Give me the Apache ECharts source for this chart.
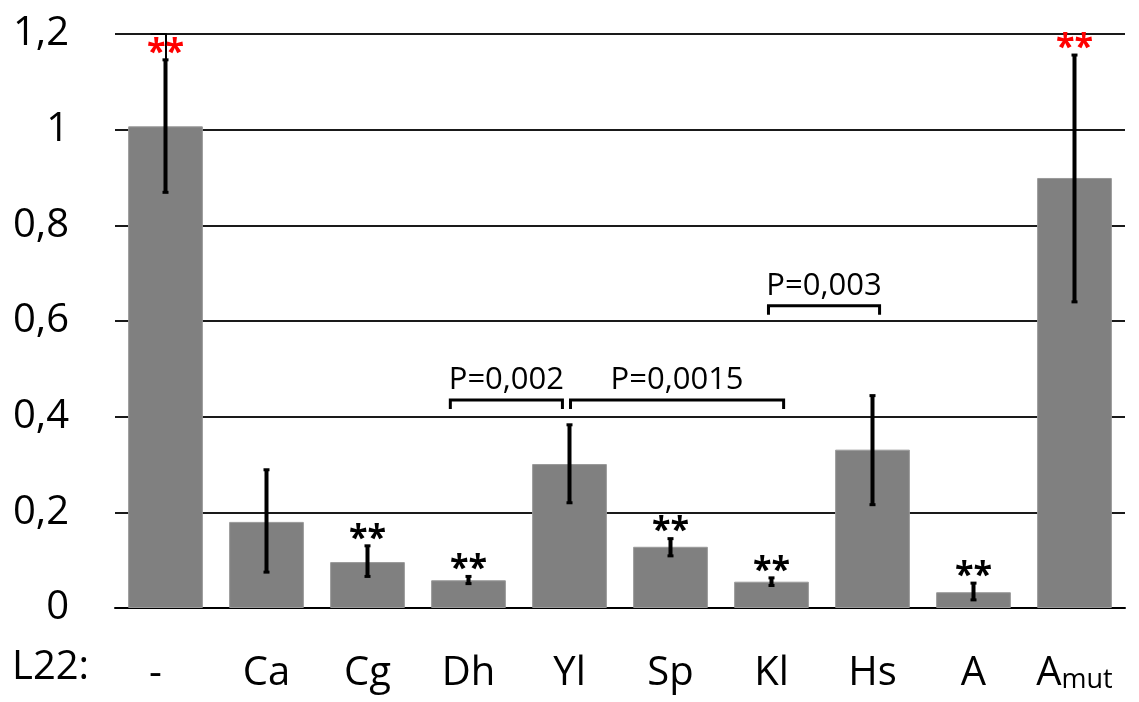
<!DOCTYPE html>
<html>
<head>
<meta charset="utf-8">
<script src="https://cdn.jsdelivr.net/npm/echarts@6/dist/echarts.min.js"></script>
<style>html,body{margin:0;padding:0;background:#fff;}#c{width:1139px;height:702px;}</style>
</head>
<body>
<div id="c"></div>
<script>
const categories = ['-', 'Ca', 'Cg', 'Dh', 'Yl', 'Sp', 'Kl', 'Hs', 'A', 'Amut'];
const values = [1.007, 0.18, 0.096, 0.058, 0.301, 0.128, 0.055, 0.331, 0.033, 0.899];
const errLow = [0.869, 0.075, 0.066, 0.051, 0.22, 0.109, 0.047, 0.216, 0.017, 0.64];
const errHigh = [1.146, 0.289, 0.13, 0.066, 0.383, 0.145, 0.063, 0.444, 0.052, 1.156];
const redStars = ['-', 'Amut'];
const blackStars = ['Cg', 'Dh', 'Sp', 'Kl', 'A'];
const yTicks = [0, 0.2, 0.4, 0.6, 0.8, 1, 1.2];
// brackets: [start x, end x, y level] in category units
const brackets = [[2.82, 3.93, 0.435], [4.01, 6.12, 0.435], [5.97, 7.07, 0.632]];
const bracketLabels = ['P=0,002', 'P=0,0015', 'P=0,003'];

const FONT = '"Open Sans", "Noto Sans", sans-serif';
const chart = echarts.init(document.getElementById('c'));

function starData(list) {
  return list.map(c => [c, errHigh[categories.indexOf(c)]]);
}
function starSeries(list, color) {
  return {
    type: 'custom',
    xAxisIndex: 0,
    data: starData(list),
    renderItem: (params, api) => {
      const p = api.coord([api.value(0), api.value(1)]);
      return {
        type: 'text',
        style: { text: '**', x: p[0], y: p[1] - 7, align: 'center', verticalAlign: 'middle',
                 fontSize: 34, fontWeight: 'bold', fontFamily: FONT, fill: color }
      };
    },
    z: 5
  };
}

const option = {
  animation: false,
  grid: { left: 115, right: 14, top: 34, bottom: 94 },
  xAxis: [{
    type: 'category',
    data: categories,
    axisTick: { show: false },
    axisLine: { lineStyle: { color: '#000', width: 2 } },
    axisLabel: {
      margin: 38,
      interval: 0,
      formatter: v => v === 'Amut' ? '{a|A}{s|mut}' : (v === '-' ? '{d|-}' : '{a|' + v + '}'),
      rich: {
        a: { fontSize: 40, fontFamily: FONT, color: '#000', lineHeight: 48, verticalAlign: 'bottom' },
        d: { fontSize: 40, fontFamily: FONT, color: '#000', lineHeight: 48, verticalAlign: 'bottom', padding: [0, 20, 0, 0] },
        s: { fontSize: 27, fontFamily: FONT, color: '#000', lineHeight: 26, verticalAlign: 'bottom' }
      }
    }
  }, {
    type: 'value', min: -0.5, max: 9.5, show: false
  }],
  yAxis: {
    type: 'value', min: 0, max: 1.2, interval: 0.2,
    axisLine: { show: true, lineStyle: { color: '#000', width: 2 } },
    axisTick: { show: true, length: 15, lineStyle: { color: '#000', width: 2 } },
    splitLine: { lineStyle: { color: '#1a1a1a', width: 2 } },
    axisLabel: {
      margin: 46, fontSize: 40, fontFamily: FONT, color: '#000',
      formatter: v => {
        const t = yTicks.find(x => Math.abs(x - v) < 1e-9);
        return String(t === undefined ? v : t).replace('.', ',');
      }
    }
  },
  graphic: [{
    type: 'text', left: 12, top: 648,
    style: { text: 'L22:', fontSize: 40, fontFamily: FONT, fill: '#000' }
  }],
  series: [
    {
      type: 'bar',
      data: values,
      barCategoryGap: '26%',
      itemStyle: { color: '#808080', borderColor: '#9a9a9a', borderWidth: 1 },
      z: 2
    },
    {
      type: 'custom',
      xAxisIndex: 0,
      data: categories.map((c, i) => [c, errLow[i], errHigh[i]]),
      renderItem: (params, api) => {
        const x = api.value(0);
        const lo = api.coord([x, api.value(1)]);
        const hi = api.coord([x, api.value(2)]);
        const w = 3;
        return {
          type: 'group',
          children: [
            { type: 'line', shape: { x1: lo[0], y1: lo[1], x2: hi[0], y2: hi[1] }, style: { stroke: '#000', lineWidth: 4 } },
            { type: 'line', shape: { x1: hi[0] - w, y1: hi[1], x2: hi[0] + w, y2: hi[1] }, style: { stroke: '#000', lineWidth: 3 } },
            { type: 'line', shape: { x1: lo[0] - w, y1: lo[1], x2: lo[0] + w, y2: lo[1] }, style: { stroke: '#000', lineWidth: 3 } }
          ]
        };
      },
      z: 4
    },
    starSeries(redStars, '#ff0000'),
    starSeries(blackStars, '#000'),
    {
      type: 'custom',
      xAxisIndex: 1,
      data: brackets,
      renderItem: (params, api) => {
        const a = api.coord([api.value(0), api.value(2)]);
        const b = api.coord([api.value(1), api.value(2)]);
        const h = 9;
        return {
          type: 'group',
          children: [
            { type: 'polyline', shape: { points: [[a[0], a[1] + h], [a[0], a[1]], [b[0], b[1]], [b[0], b[1] + h]] },
              style: { stroke: '#000', lineWidth: 3, fill: null } },
            { type: 'text', style: { text: bracketLabels[params.dataIndex], x: (a[0] + b[0]) / 2, y: a[1] - 4,
              align: 'center', verticalAlign: 'bottom', fontSize: 31, fontFamily: FONT, fill: '#000' } }
          ]
        };
      },
      z: 5
    }
  ]
};
chart.setOption(option);
</script>
</body>
</html>
